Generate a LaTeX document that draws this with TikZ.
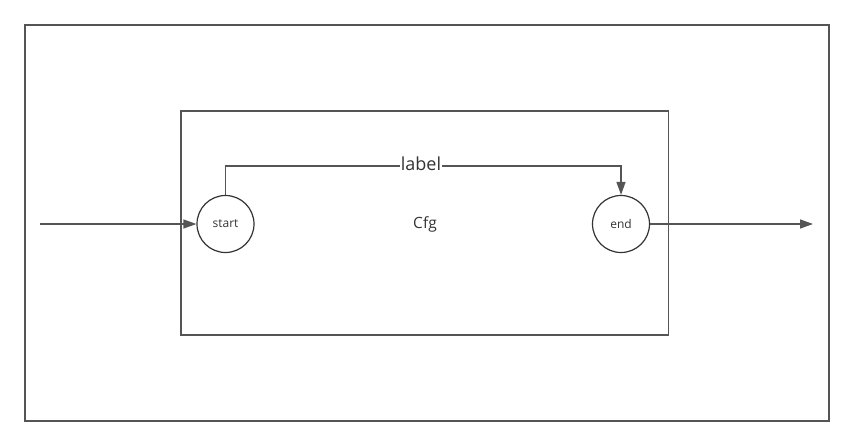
\documentclass[tikz,border=0pt]{standalone}
\usepackage{fontspec}
\setmainfont{Open Sans}
\usetikzlibrary{arrows.meta}
\definecolor{linegray}{HTML}{555555}
\definecolor{circgray}{HTML}{333333}
\begin{document}
\begin{tikzpicture}[x=1pt,y=-1pt,
  frame/.style={draw=linegray,line width=1.5pt,inner sep=0pt,outer sep=0pt},
  state/.style={circle,draw=circgray,line width=1.2pt,minimum size=57pt,inner sep=0pt,
    font=\fontsize{12}{14}\selectfont,text=circgray},
  conn/.style={draw=linegray,line width=1.3pt,-{Triangle[length=13pt,width=9pt]}},
  lbl/.style={fill=white,inner sep=1pt,text=circgray,font=\fontsize{18}{22}\selectfont},
  title/.style={text=circgray,font=\fontsize{15.5}{18}\selectfont,inner sep=0pt}]
\useasboundingbox (0,0) rectangle (854,447);
\node[frame,minimum width=804pt,minimum height=396pt] (outer) at (426.9,223) {};
\node[frame,minimum width=487.5pt,minimum height=224pt] (inner) at (424.75,223) {};
\node[state] (start) at (225.5,224) {start};
\node[state] (end) at (621,224) {end};
\node[title] (cfg) at (425,224) {Cfg};
\coordinate (src) at (40,224);
\coordinate (dst) at (813,224);
\coordinate (c1) at (225.5,166);
\coordinate (c2) at (621,166);
\draw[conn] (src) -- (start);
\draw[conn] (end) -- (dst);
\draw[conn] (start.north) -- (c1) -- (c2) -- (end.north);
\node[lbl] (label) at (421,163.5) {label};
\end{tikzpicture}
\end{document}
